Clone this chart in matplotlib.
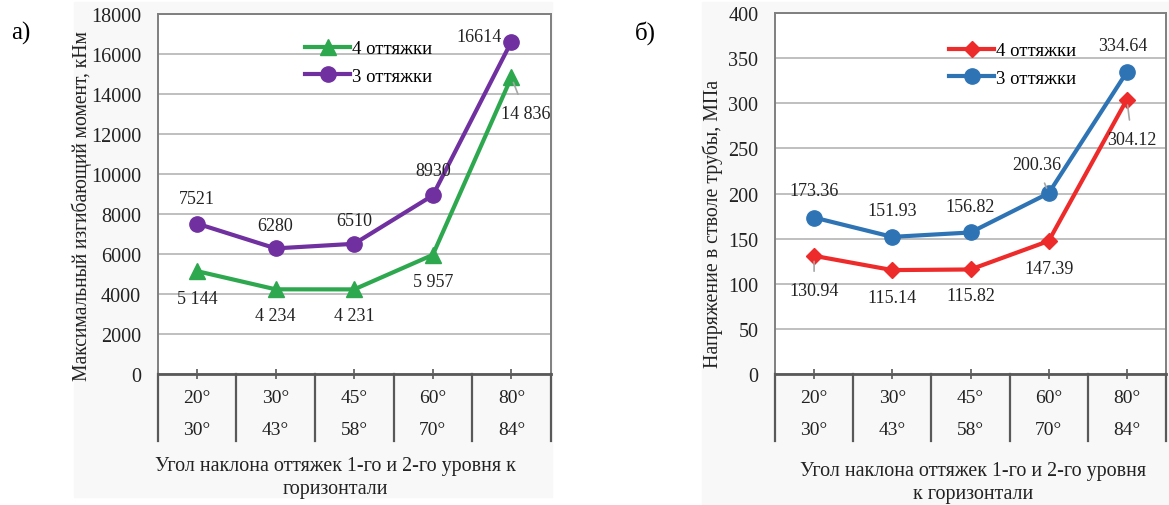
import matplotlib
matplotlib.use("Agg")
import matplotlib.pyplot as plt
from matplotlib.patches import Rectangle

plt.rcParams['font.family'] = ['Liberation Serif', 'DejaVu Serif']

# data
angles_lvl1 = ["20°", "30°", "45°", "60°", "80°"]
angles_lvl2 = ["30°", "43°", "58°", "70°", "84°"]

moment_4 = [5144, 4234, 4231, 5957, 14836]
moment_3 = [7521, 6280, 6510, 8930, 16614]
moment_4_txt = ["5 144", "4 234", "4 231", "5 957", "14 836"]
moment_3_txt = ["7521", "6280", "6510", "8930", "16614"]

stress_4 = [130.94, 115.14, 115.82, 147.39, 304.12]
stress_3 = [173.36, 151.93, 156.82, 200.36, 334.64]

series_names = ["4 оттяжки", "3 оттяжки"]
xlabel = "Угол наклона оттяжек 1-го и 2-го уровня к\nгоризонтали"
xlabel_b = "Угол наклона оттяжек 1-го и 2-го уровня\nк горизонтали"

W, H = 1169, 506
fig = plt.figure(figsize=(W / 100, H / 100), dpi=100)

# faint grey chart backgrounds
fig.add_artist(Rectangle((74 / W, 1 - 498 / H), (552 - 74) / W, 495 / H,
                         transform=fig.transFigure, color='#f8f8f8', zorder=-10))
fig.add_artist(Rectangle((702 / W, 0), (W - 702) / W, 1 - 3 / H,
                         transform=fig.transFigure, color='#f8f8f8', zorder=-10))


def px_axes(x0, x1, y0, y1):
    return fig.add_axes([x0 / W, 1 - y1 / H, (x1 - x0) / W, (y1 - y0) / H])


def style_axes(ax, ymax, ystep):
    x = range(len(angles_lvl1))
    ax.set_facecolor('white')
    ax.set_xlim(-0.5, len(angles_lvl1) - 0.5)
    ax.set_ylim(0, ymax)
    ax.set_yticks(range(0, ymax + 1, ystep))
    ax.tick_params(axis='y', length=0, labelsize=14.5, pad=12, colors='#222222')
    ax.set_xticks(list(x))
    ax.set_xticklabels([])
    ax.tick_params(axis='x', direction='inout', length=7, width=1.2, color='#595959')
    ax.grid(axis='y', color='#bfbfbf', lw=1.4)
    ax.set_axisbelow(True)
    for s in ['left', 'right', 'top']:
        ax.spines[s].set_color('#7f7f7f')
        ax.spines[s].set_linewidth(1.4)
    ax.spines['bottom'].set_color('#595959')
    ax.spines['bottom'].set_linewidth(2)
    # category table under the axis
    tr = ax.get_xaxis_transform()
    bottom = -0.185
    for i in range(len(angles_lvl1) + 1):
        ax.plot([i - 0.5, i - 0.5], [0, bottom], transform=tr, color='#595959',
                lw=1.6, clip_on=False, zorder=3)
    for i in x:
        ax.text(i, -0.065, angles_lvl1[i], transform=tr, ha='center', va='center',
                fontsize=14, color='#222222')
        ax.text(i, -0.153, angles_lvl2[i], transform=tr, ha='center', va='center',
                fontsize=14, color='#222222')


def label(ax, xi, yv, txt, dx, dy, leader=False):
    kw = {}
    if leader:
        kw['arrowprops'] = dict(arrowstyle='-', color='#a6a6a6', lw=1.2, shrinkA=6, shrinkB=4)
    ax.annotate(txt, (xi, yv), xytext=(dx, dy), textcoords='offset pixels',
                ha='center', va='center', fontsize=13, color='#222222', zorder=5, **kw)


x = list(range(len(angles_lvl1)))

# ---- a) ----
axa = px_axes(157.7, 550.7, 15, 375)
style_axes(axa, 18000, 2000)
la, = axa.plot(x, moment_4, color='#2ea84f', lw=3, marker='^', ms=11, zorder=4)
lb, = axa.plot(x, moment_3, color='#7030a0', lw=3, marker='o', ms=11, zorder=4)
off_a4 = [(0, -27), (0, -26), (0, -26), (0, -27), (14, -36)]
off_a3 = [(0, 25), (0, 23), (0, 23), (0, 25), (-32, 5)]
for i in x:
    label(axa, i, moment_4[i], moment_4_txt[i], *off_a4[i], leader=(i == 4))
    label(axa, i, moment_3[i], moment_3_txt[i], *off_a3[i])
axa.legend([la, lb], series_names, loc='upper left', frameon=False, fontsize=13.5,
           bbox_to_anchor=(296 / W, 1 - 32 / H), bbox_transform=fig.transFigure,
           handlelength=2.4, handletextpad=0.1, labelspacing=0.55, borderpad=0)
fig.text(82 / W, 1 - 206 / H, "Максимальный изгибающий момент, кНм", rotation=90,
         ha='center', va='center', fontsize=14.1, color='#222222')
fig.text(335 / W, 1 - 478 / H, xlabel, ha='center', va='center', fontsize=14.4,
         color='#222222', linespacing=1.25)
fig.text(21 / W, 1 - 33 / H, "а)", ha='center', va='center', fontsize=18)

# ---- б) ----
axb = px_axes(775, 1166, 14, 375)
style_axes(axb, 400, 50)
lc, = axb.plot(x, stress_4, color='#ee2b2b', lw=3, marker='D', ms=8, zorder=4)
ld, = axb.plot(x, stress_3, color='#2e74b5', lw=3, marker='o', ms=11, zorder=4)
off_b4 = [(0, -35), (0, -27), (0, -26), (0, -28), (5, -40)]
off_b3 = [(0, 27), (0, 26), (0, 26), (-12, 29), (-4, 26)]
for i in x:
    label(axb, i, stress_4[i], f"{stress_4[i]:.2f}", *off_b4[i], leader=(i in (0, 4)))
    label(axb, i, stress_3[i], f"{stress_3[i]:.2f}", *off_b3[i], leader=(i == 3))
axb.legend([lc, ld], series_names, loc='upper left', frameon=False, fontsize=13.5,
           bbox_to_anchor=(940 / W, 1 - 34 / H), bbox_transform=fig.transFigure,
           handlelength=2.4, handletextpad=0.1, labelspacing=0.55, borderpad=0)
fig.text(713 / W, 1 - 224 / H, "Напряжение в стволе трубы, МПа", rotation=90,
         ha='center', va='center', fontsize=14.3, color='#222222')
fig.text(973 / W, 1 - 483 / H, xlabel_b, ha='center', va='center', fontsize=14.4,
         color='#222222', linespacing=1.25)
fig.text(645 / W, 1 - 33 / H, "б)", ha='center', va='center', fontsize=18)

fig.savefig("out.png", dpi=100, facecolor='white')
